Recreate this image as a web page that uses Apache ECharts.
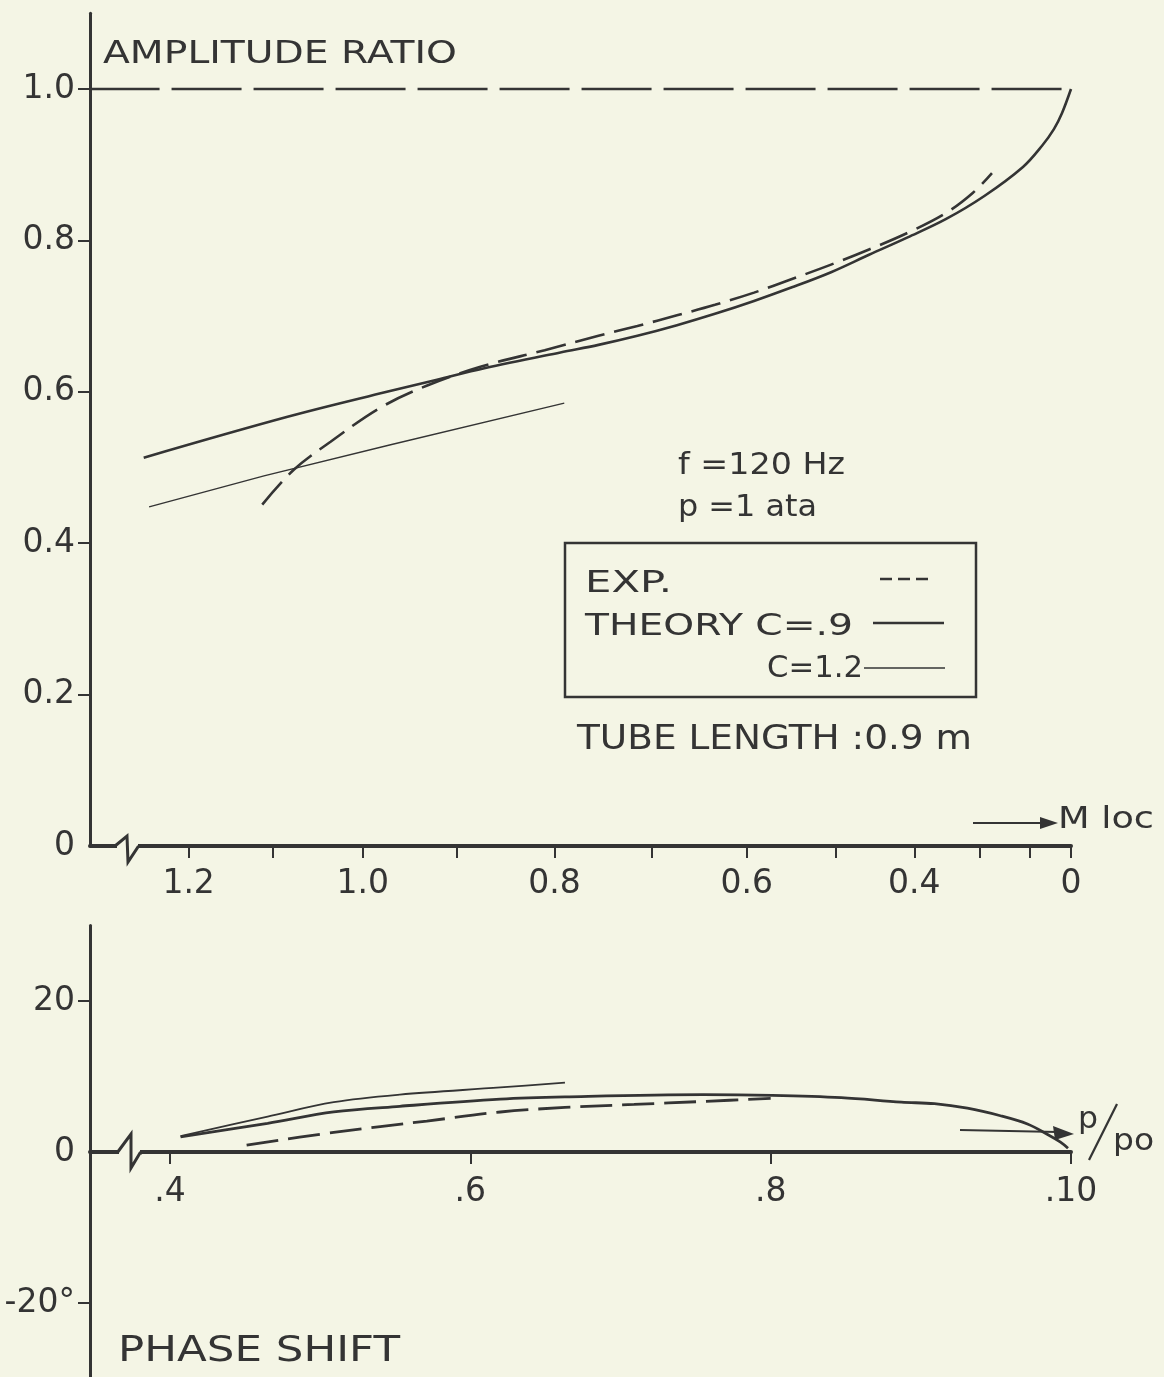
<!DOCTYPE html>
<html><head><meta charset="utf-8">
<script src="https://cdn.jsdelivr.net/npm/echarts@6/dist/echarts.min.js"></script>
<style>html,body{margin:0;padding:0;background:#f4f5e5}#c{width:1164px;height:1377px}</style>
</head><body><div id="c"></div><script>
// ---------- DATA ----------
// Top panel: amplitude ratio vs local Mach number (axis drawn on the p/po scale)
const MLOC_TICKS = [1.2, 1.1, 1.0, 0.9, 0.8, 0.7, 0.6, 0.5, 0.4, 0.3, 0.2, 0];
const MLOC_LABELS = [1.2, 1.0, 0.8, 0.6, 0.4, 0];
const MLOC_LABEL_TEXT = ['1.2', '1.0', '0.8', '0.6', '0.4', '0'];
const AMP_TICKS = [0.2, 0.4, 0.6, 0.8, 1.0];
const AMP_LABELS = [0, 0.2, 0.4, 0.6, 0.8, 1.0];
const AMP_LABEL_TEXT = ['0', '0.2', '0.4', '0.6', '0.8', '1.0'];

const REF_M = [1.33, 0];
const REF_A = [1.0, 1.0];

const C09_M = [1.257, 1.083, 0.974, 0.921, 0.872, 0.794, 0.755, 0.715, 0.674, 0.634, 0.592, 0.550, 0.505, 0.459, 0.409, 0.355, 0.292, 0.216, 0.167, 0.128, 0.093, 0];
const C09_A = [0.513, 0.567, 0.600, 0.616, 0.631, 0.652, 0.662, 0.674, 0.688, 0.703, 0.720, 0.738, 0.758, 0.781, 0.804, 0.828, 0.859, 0.897, 0.925, 0.947, 0.968, 1.0];

const C12_M = [1.25, 1.11, 0.97, 0.79];
const C12_A = [0.448, 0.489, 0.530, 0.585];

const EXP_M = [1.112, 1.076, 1.035, 0.981, 0.932, 0.876, 0.810, 0.755, 0.715, 0.674, 0.634, 0.592, 0.550, 0.505, 0.459, 0.409, 0.355, 0.312, 0.279];
const EXP_A = [0.451, 0.497, 0.534, 0.579, 0.608, 0.633, 0.655, 0.674, 0.687, 0.701, 0.715, 0.731, 0.749, 0.768, 0.788, 0.810, 0.836, 0.863, 0.889];

// Bottom panel: phase shift (deg) vs p/po
const PPO_TICKS = [0.4, 0.6, 0.8, 1.0];
const PPO_LABEL_TEXT = ['.4', '.6', '.8', '.10'];
const PHASE_TICKS = [-20, 20];
const PHASE_LABELS = [-20, 0, 20];
const PHASE_LABEL_TEXT = ['-20°', '0', '20'];

const PH_C09_P = [0.407, 0.465, 0.509, 0.553, 0.620, 0.663, 0.755, 0.801, 0.847, 0.887, 0.909, 0.931, 0.953, 0.971, 0.985, 0.993, 0.998];
const PH_C09_D = [2.0, 3.8, 5.3, 6.05, 7.0, 7.3, 7.6, 7.5, 7.2, 6.6, 6.4, 5.8, 4.8, 3.7, 2.25, 1.3, 0.5];

const PH_C12_P = [0.407, 0.465, 0.509, 0.553, 0.620, 0.663];
const PH_C12_D = [2.1, 4.7, 6.6, 7.6, 8.55, 9.2];

const PH_EXP_P = [0.451, 0.509, 0.571, 0.620, 0.663, 0.709, 0.755, 0.800];
const PH_EXP_D = [0.9, 2.6, 4.1, 5.3, 5.9, 6.3, 6.7, 7.1];

// ---------- helpers ----------
const PPO_MIN = 0.3467, PPO_MAX = 1.0;
function mToP(m) { return Math.pow(1 + 0.2 * m * m, -3.5); } // isentropic p/po for local Mach
const zipM = (ms, ys) => ms.map((m, i) => [mToP(m), ys[i]]);
const zip = (xs, ys) => xs.map((x, i) => [x, ys[i]]);

const INK = '#343434';
const BG = '#f4f5e5';
const FONT = '"DejaVu Sans", "Liberation Sans", sans-serif';

const mc = document.createElement('canvas').getContext('2d');
function textEl(str, x, cy, size, targetW) {
  const font = size + 'px ' + FONT;
  mc.font = font;
  const w = mc.measureText(str).width;
  return {
    type: 'text', x: x, y: cy, scaleX: targetW ? targetW / w : 1, z: 100,
    style: { text: str, x: 0, y: 0, font: font, fill: INK, textAlign: 'left', textVerticalAlign: 'middle' }
  };
}
function seg(x1, y1, x2, y2, w, dash) {
  return { type: 'line', z: 100, shape: { x1, y1, x2, y2 }, style: { stroke: INK, lineWidth: w, lineDash: dash || null } };
}
function fmt(vals, texts) {
  return v => { for (let i = 0; i < vals.length; i++) if (Math.abs(vals[i] - v) < 1e-6) return texts[i]; return ''; };
}

const topLabelP = MLOC_LABELS.map(mToP);
const lineBase = { type: 'line', symbol: 'none', silent: true };
const labelBase = { fontSize: 33, fontFamily: FONT, color: INK };

const option = {
  backgroundColor: BG,
  animation: false,
  grid: [
    { left: 90, top: 13.3, width: 981, height: 832.7, containLabel: false, outerBoundsMode: 'none' },
    { left: 90, top: 925.5, width: 981, height: 453, containLabel: false, outerBoundsMode: 'none' }
  ],
  xAxis: [
    {
      gridIndex: 0, type: 'value', min: PPO_MIN, max: PPO_MAX,
      splitLine: { show: false },
      axisLine: { lineStyle: { color: INK, width: 4 } },
      axisTick: { customValues: MLOC_TICKS.map(mToP), length: 12, lineStyle: { color: INK, width: 2 } },
      axisLabel: Object.assign({ customValues: topLabelP, margin: 22, formatter: fmt(topLabelP, MLOC_LABEL_TEXT) }, labelBase)
    },
    {
      gridIndex: 1, type: 'value', min: PPO_MIN, max: PPO_MAX, position: 'bottom', offset: -226.5,
      splitLine: { show: false },
      axisLine: { onZero: false, lineStyle: { color: INK, width: 4 } },
      axisTick: { customValues: PPO_TICKS, length: 12, lineStyle: { color: INK, width: 2 } },
      axisLabel: Object.assign({ customValues: PPO_TICKS, margin: 24, formatter: fmt(PPO_TICKS, PPO_LABEL_TEXT) }, labelBase)
    }
  ],
  yAxis: [
    {
      gridIndex: 0, type: 'value', min: 0, max: 1.1,
      splitLine: { show: false },
      axisLine: { show: true, lineStyle: { color: INK, width: 3 } },
      axisTick: { customValues: AMP_TICKS, length: 12, lineStyle: { color: INK, width: 2 } },
      axisLabel: Object.assign({ customValues: AMP_LABELS, margin: 15, formatter: fmt(AMP_LABELS, AMP_LABEL_TEXT) }, labelBase)
    },
    {
      gridIndex: 1, type: 'value', min: -30, max: 30,
      splitLine: { show: false },
      axisLine: { show: true, onZero: false, lineStyle: { color: INK, width: 3 } },
      axisTick: { customValues: PHASE_TICKS, length: 12, lineStyle: { color: INK, width: 2 } },
      axisLabel: Object.assign({ customValues: PHASE_LABELS, margin: 15, formatter: fmt(PHASE_LABELS, PHASE_LABEL_TEXT) }, labelBase)
    }
  ],
  series: [
    Object.assign({}, lineBase, { name: 'ref', xAxisIndex: 0, yAxisIndex: 0, data: zipM(REF_M, REF_A),
      lineStyle: { color: INK, width: 2.5, type: [70, 12] } }),
    Object.assign({}, lineBase, { name: 'THEORY C=.9', xAxisIndex: 0, yAxisIndex: 0, data: zipM(C09_M, C09_A), smooth: 0.35,
      lineStyle: { color: INK, width: 2.6 } }),
    Object.assign({}, lineBase, { name: 'C=1.2', xAxisIndex: 0, yAxisIndex: 0, data: zipM(C12_M, C12_A),
      lineStyle: { color: INK, width: 1.4 } }),
    Object.assign({}, lineBase, { name: 'EXP.', xAxisIndex: 0, yAxisIndex: 0, data: zipM(EXP_M, EXP_A), smooth: 0.35,
      lineStyle: { color: INK, width: 2.6, type: [30, 10] } }),
    Object.assign({}, lineBase, { name: 'THEORY C=.9 phase', xAxisIndex: 1, yAxisIndex: 1, data: zip(PH_C09_P, PH_C09_D), smooth: 0.35,
      lineStyle: { color: INK, width: 2.8 } }),
    Object.assign({}, lineBase, { name: 'C=1.2 phase', xAxisIndex: 1, yAxisIndex: 1, data: zip(PH_C12_P, PH_C12_D), smooth: 0.35,
      lineStyle: { color: INK, width: 1.8 } }),
    Object.assign({}, lineBase, { name: 'EXP. phase', xAxisIndex: 1, yAxisIndex: 1, data: zip(PH_EXP_P, PH_EXP_D), smooth: 0.35,
      lineStyle: { color: INK, width: 2.8, type: [32, 10] } })
  ],
  graphic: [
    textEl('AMPLITUDE RATIO', 103, 55, 32, 354),
    textEl('f =120 Hz', 678, 466, 30, 167),
    textEl('p =1 ata', 678, 508, 30, 139),
    { type: 'rect', z: 100, shape: { x: 565, y: 543, width: 411, height: 154 }, style: { fill: null, stroke: INK, lineWidth: 2.5 } },
    textEl('EXP.', 585, 584, 30, 87),
    seg(880, 579, 928, 579, 2.5, [12, 6]),
    textEl('THEORY C=.9', 585, 627, 30, 268),
    seg(873, 623, 944, 623, 2.6),
    textEl('C=1.2', 767, 669, 30, 96),
    seg(864, 668, 945, 668, 1.5),
    textEl('TUBE LENGTH :0.9 m', 577, 740, 34, 395),
    // top axis arrow + label
    seg(973, 823, 1045, 823, 2),
    { type: 'polygon', z: 100, shape: { points: [[1040, 817], [1058, 823], [1040, 829]] }, style: { fill: INK } },
    textEl('M loc', 1058, 820, 30, 96),
    // bottom axis arrow + label
    seg(960, 1130, 1058, 1132, 2),
    { type: 'polygon', z: 100, shape: { points: [[1053, 1126], [1074, 1134], [1055, 1140]] }, style: { fill: INK } },
    textEl('p', 1078, 1120, 30, 20),
    seg(1117, 1104, 1089, 1160, 2.2),
    textEl('po', 1113, 1142, 30, 41),
    textEl('PHASE SHIFT', 118, 1352, 35, 282),
    // axis breaks
    { type: 'rect', z: 99, shape: { x: 117, y: 838, width: 21, height: 16 }, style: { fill: BG } },
    { type: 'polyline', z: 100, shape: { points: [[115, 846], [127, 836], [128, 862], [138, 847], [140, 846]] }, style: { stroke: INK, lineWidth: 3, fill: null } },
    { type: 'rect', z: 99, shape: { x: 119, y: 1145, width: 21, height: 16 }, style: { fill: BG } },
    { type: 'polyline', z: 100, shape: { points: [[117, 1153], [131, 1134], [131, 1168], [140, 1153], [142, 1153]] }, style: { stroke: INK, lineWidth: 3, fill: null } }
  ]
};

const chart = echarts.init(document.getElementById('c'), null, { renderer: 'canvas' });
chart.setOption(option);
</script></body></html>
